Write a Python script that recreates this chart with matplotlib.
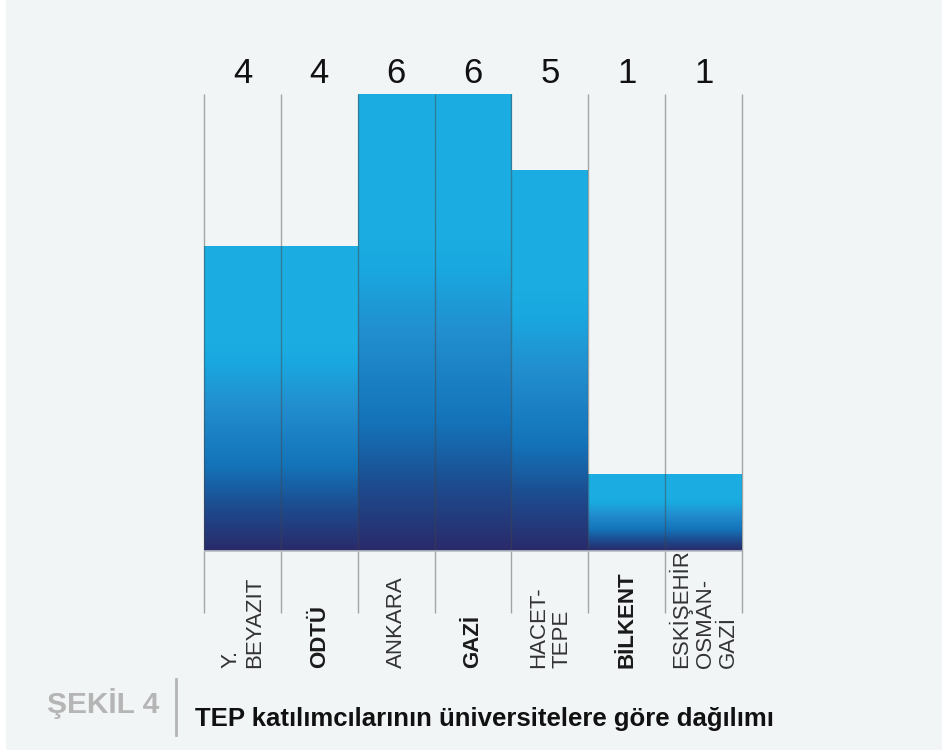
import numpy as np
import matplotlib
matplotlib.use("Agg")
import matplotlib.pyplot as plt
from matplotlib.colors import LinearSegmentedColormap
from matplotlib.patches import Rectangle
from matplotlib.lines import Line2D

plt.rcParams['font.family'] = ['Liberation Sans', 'DejaVu Sans']

# TEP katılımcılarının üniversitelere göre dağılımı
universiteler = ["Y.\nBEYAZIT", "ODTÜ", "ANKARA", "GAZİ", "HACET-\nTEPE", "BİLKENT",
                 "ESKİŞEHİR\nOSMAN-\nGAZİ"]
katilimci = [4, 4, 6, 6, 5, 1, 1]
kalin = [False, True, False, True, False, True, False]

bg = '#F1F5F6'
grad = LinearSegmentedColormap.from_list('tep', [
    (0.00, '#2A2A6A'),
    (0.14, '#1D4B8E'),
    (0.28, '#1473B9'),
    (0.48, '#228FCF'),
    (0.62, '#19A8E0'),
    (0.68, '#1BADE2'),
    (1.00, '#1BADE2'),
])

fig = plt.figure(figsize=(9.42, 7.55), dpi=100, facecolor='white')
fig.patches.append(Rectangle((6 / 942, 5 / 755), 1, 1, transform=fig.transFigure,
                             facecolor=bg, edgecolor='none', zorder=-10))

ax = fig.add_axes([204 / 942, (755 - 551) / 755, 538 / 942, 457 / 755])
ax.set_facecolor('none')
n = len(katilimci)
ax.set_xlim(-0.5, n - 0.5)
ax.set_ylim(0, max(katilimci))
ax.axis('off')

# gradyanlı çubuklar
g = np.linspace(0, 1, 256).reshape(-1, 1)
for i, v in enumerate(katilimci):
    ax.imshow(g, cmap=grad, origin='lower', aspect='auto',
              extent=[i - 0.5, i + 0.5, 0, v], zorder=2)

# ayırıcı çizgiler
kenar = np.arange(n + 1) - 0.5
ax.vlines(kenar, -0.81, max(katilimci), colors='#444444', alpha=0.45, lw=1,
          zorder=3, clip_on=False)
ax.hlines(0, -0.5, n - 0.5, colors='#B8BCC4', lw=1.2, zorder=4, clip_on=False)

for i, (v, ad, b) in enumerate(zip(katilimci, universiteler, kalin)):
    ax.annotate(str(v), xy=(i, 1), xycoords=('data', 'axes fraction'),
                xytext=(0, 3), textcoords='offset points',
                ha='center', va='bottom', fontsize=25, color='#111111')
    ax.annotate(ad, xy=(i, 0), xycoords='data', xytext=(0, -84),
                textcoords='offset points', rotation=90, ha='center', va='bottom',
                multialignment='left', fontsize=16, linespacing=1.15,
                fontweight='bold' if b else 'normal',
                color='#1a1a1a' if b else '#333333')

# alt başlık
fig.text(47 / 942, (755 - 713) / 755, "ŞEKİL 4", fontsize=21.5, fontweight='bold',
         color='#B5B5B5', va='baseline', ha='left')
fig.lines.append(Line2D([176 / 942, 176 / 942], [(755 - 735) / 755, (755 - 679) / 755],
                        transform=fig.transFigure, color='#B5B5B5', lw=2))
fig.text(195 / 942, (755 - 726) / 755, "TEP katılımcılarının üniversitelere göre dağılımı",
         fontsize=18.5, fontweight='bold', color='#111111', va='baseline', ha='left')

fig.savefig('out.png', dpi=100, facecolor=fig.get_facecolor())
